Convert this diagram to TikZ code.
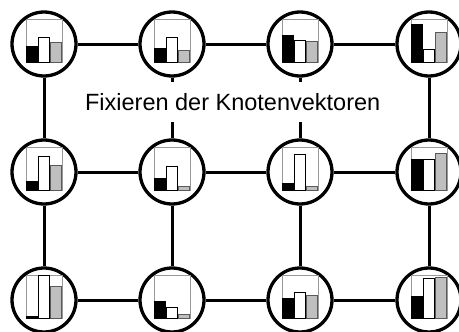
\documentclass[tikz,border=0pt]{standalone}
\usepackage{fontspec}
\setmainfont{Liberation Sans}
\tikzset{
  knot/.style={circle, draw=black, fill=white, line width=3.3pt, minimum size=64pt, inner sep=0pt},
  conn/.style={draw=black, line width=3pt},
  chartframe/.style={draw=black!40, line width=0.9pt},
  blackbar/.style={fill=black, draw=black, line width=0.8pt},
  whitebar/.style={fill=white, draw=black, line width=0.8pt},
  graybar/.style={fill=black!25, draw=black!65, line width=0.8pt},
  label/.style={font=\fontsize{23.5}{26}\selectfont, inner xsep=0pt, minimum height=40pt, anchor=center}
}
\newcommand\mychart[4]{%
  \begin{scope}[shift={(#1)}]
    \draw[chartframe] (-18,-25) rectangle (18,18.5);
    \draw[blackbar] (-17.5,18.5) rectangle (-7,18.5-#2);
    \draw[whitebar] (-5.5,18.5) rectangle (5,18.5-#3);
    \draw[graybar] (6.5,18.5) rectangle (17,18.5-#4);
  \end{scope}}
\begin{document}
\begin{tikzpicture}[x=1pt,y=-1pt]
\useasboundingbox (0,0) rectangle (459,332);
% circle nodes
\node[knot] (n11) at (44,44) {};
\node[knot] (n12) at (172,44) {};
\node[knot] (n13) at (300,44) {};
\node[knot] (n14) at (429,44) {};
\node[knot] (n21) at (44,172) {};
\node[knot] (n22) at (172,172) {};
\node[knot] (n23) at (300,172) {};
\node[knot] (n24) at (429,172) {};
\node[knot] (n31) at (44,300) {};
\node[knot] (n32) at (172,300) {};
\node[knot] (n33) at (300,300) {};
\node[knot] (n34) at (429,300) {};
% label
\node[label] (t) at (232.7,102) {Fixieren der Knotenvektoren};
% horizontal connectors
\draw[conn] (n11) -- (n12);
\draw[conn] (n12) -- (n13);
\draw[conn] (n13) -- (n14);
\draw[conn] (n21) -- (n22);
\draw[conn] (n22) -- (n23);
\draw[conn] (n23) -- (n24);
\draw[conn] (n31) -- (n32);
\draw[conn] (n32) -- (n33);
\draw[conn] (n33) -- (n34);
% vertical connectors
\draw[conn] (n11) -- (n21);
\draw[conn] (n12) -- (t.north -| n12);
\draw[conn] (t.south -| n12) -- (n22);
\draw[conn] (n13) -- (t.north -| n13);
\draw[conn] (t.south -| n13) -- (n23);
\draw[conn] (n14) -- (n24);
\draw[conn] (n21) -- (n31);
\draw[conn] (n22) -- (n32);
\draw[conn] (n23) -- (n33);
\draw[conn] (n24) -- (n34);
% charts
\mychart{n11}{15.7}{25.3}{19.7}
\mychart{n12}{14}{25}{11.7}
\mychart{n13}{27}{22}{21.4}
\mychart{n14}{37.7}{13.4}{30.4}
\mychart{n21}{8.7}{33.7}{25}
\mychart{n22}{12}{23.7}{4.3}
\mychart{n23}{6.7}{35.7}{3.7}
\mychart{n24}{31.3}{31.3}{37}
\mychart{n31}{1.7}{43}{31.7}
\mychart{n32}{17}{11}{3.7}
\mychart{n33}{19.7}{25.7}{22.7}
\mychart{n34}{21.7}{39.7}{41.3}
\end{tikzpicture}
\end{document}
